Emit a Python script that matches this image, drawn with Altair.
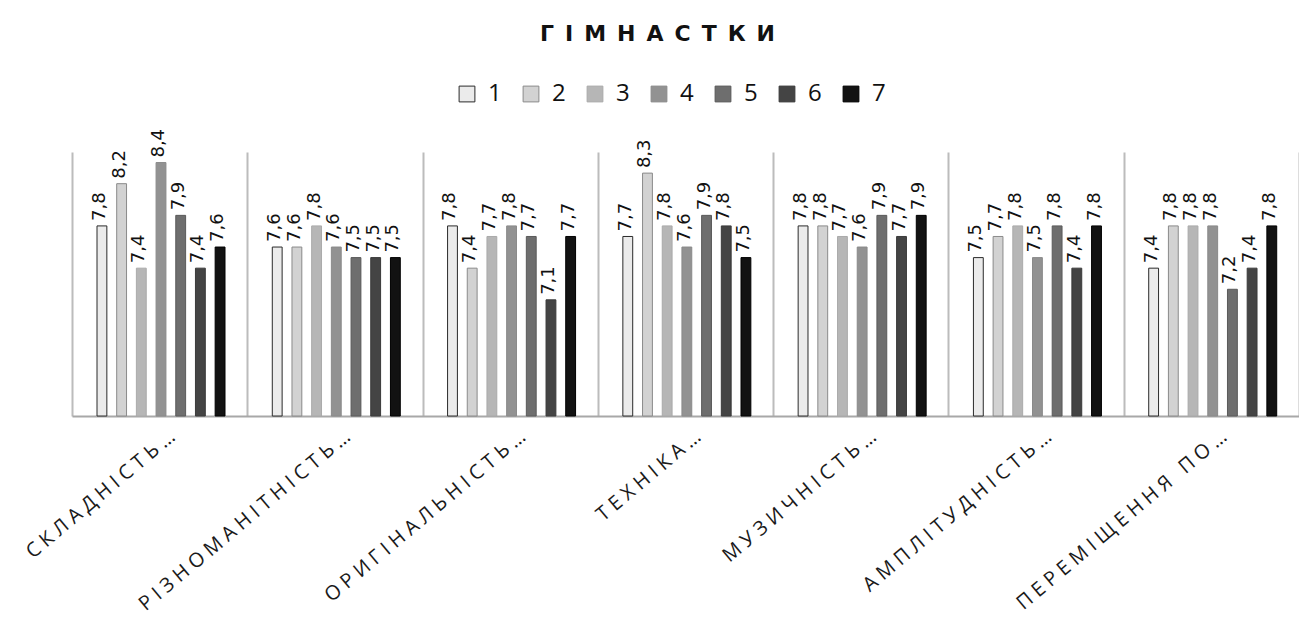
import altair as alt
import pandas as pd

# Criteria (x groups) and judges (series 1..7)
categories = [
    "СКЛАДНІСТЬ…",
    "РІЗНОМАНІТНІСТЬ…",
    "ОРИГІНАЛЬНІСТЬ…",
    "ТЕХНІКА…",
    "МУЗИЧНІСТЬ…",
    "АМПЛІТУДНІСТЬ…",
    "ПЕРЕМІЩЕННЯ ПО…",
]
series = ["1", "2", "3", "4", "5", "6", "7"]

scores_skladnist = [7.8, 8.2, 7.4, 8.4, 7.9, 7.4, 7.6]
scores_riznomanitnist = [7.6, 7.6, 7.8, 7.6, 7.5, 7.5, 7.5]
scores_oryhinalnist = [7.8, 7.4, 7.7, 7.8, 7.7, 7.1, 7.7]
scores_tekhnika = [7.7, 8.3, 7.8, 7.6, 7.9, 7.8, 7.5]
scores_muzychnist = [7.8, 7.8, 7.7, 7.6, 7.9, 7.7, 7.9]
scores_amplitudnist = [7.5, 7.7, 7.8, 7.5, 7.8, 7.4, 7.8]
scores_peremishchennia = [7.4, 7.8, 7.8, 7.8, 7.2, 7.4, 7.8]

all_scores = [
    scores_skladnist,
    scores_riznomanitnist,
    scores_oryhinalnist,
    scores_tekhnika,
    scores_muzychnist,
    scores_amplitudnist,
    scores_peremishchennia,
]

fills = ["#ebebeb", "#d2d2d2", "#b6b6b6", "#929292", "#6e6e6e", "#444444", "#121212"]
strokes = ["#2a2a2a", "#8a8a8a", "#aaaaaa", "#8a8a8a", "#5a5a5a", "#3a3a3a", "#000000"]

rows = []
for cat, vals in zip(categories, all_scores):
    for s, v in zip(series, vals):
        rows.append({
            "category": cat,
            "series": s,
            "value": v,
            "label": f"{v:.1f}".replace(".", ","),
        })
df = pd.DataFrame(rows)

title_text = "\u2002".join("ГІМНАСТКИ")

legend = alt.Legend(
    title=None,
    orient="none",
    legendX=383,
    legendY=-70,
    direction="horizontal",
    symbolType="square",
    symbolSize=250,
    symbolStrokeWidth=1,
    labelFontSize=24,
    labelFont="Open Sans",
    labelColor="#111111",
    labelOffset=9,
    columnPadding=17,
)

x_enc = alt.X(
    "category:N",
    sort=categories,
    title=None,
    scale=alt.Scale(paddingInner=0, paddingOuter=0),
    axis=alt.Axis(
        labelAngle=-40,
        labelFontSize=20,
        labelFont="Open Sans",
        labelColor="#1a1a1a",
        labelPadding=10,
        labelOffset=6,
        labelLimit=0,
        labelExpr="join(split(datum.label, ''), '\u2005')",
        ticks=False,
        domainColor="#a8a8a8",
        domainWidth=2,
        grid=True,
        gridColor="#bcbcbc",
        gridWidth=2,
        tickBand="extent",
    ),
)
xo_enc = alt.XOffset(
    "series:N",
    sort=series,
    scale=alt.Scale(range=[25, 153], paddingInner=0.5, paddingOuter=0),
)
y_enc = alt.Y(
    "value:Q",
    scale=alt.Scale(domain=[6, 8.5], zero=False, nice=False),
    axis=None,
)

bars = alt.Chart().mark_bar(strokeWidth=1).encode(
    x=x_enc,
    xOffset=xo_enc,
    y=y_enc,
    y2=alt.datum(6),
    color=alt.Color("series:N", sort=series, scale=alt.Scale(domain=series, range=fills), legend=legend),
    stroke=alt.Stroke("series:N", sort=series, scale=alt.Scale(domain=series, range=strokes), legend=legend),
)

labels = alt.Chart().mark_text(
    angle=270,
    align="left",
    baseline="middle",
    dx=5,
    dy=-2,
    fontSize=18,
    font="DejaVu Sans",
    color="#111111",
).encode(
    x=x_enc,
    xOffset=xo_enc,
    y=y_enc,
    text="label:N",
)

chart = alt.layer(bars, labels, data=df).properties(
    width=1227,
    height=264,
    padding={"left": 72, "top": 152, "right": 0, "bottom": 205},
    autosize=alt.AutoSizeParams(type="none"),
    title=alt.TitleParams(
        text=title_text,
        fontSize=22,
        fontWeight="bold",
        font="DejaVu Sans",
        color="#111111",
        anchor="middle",
        dx=-28,
        offset=36,
    ),
).configure_view(stroke=None)

chart.save("out.html", embed_options={"renderer": "svg", "actions": False})
